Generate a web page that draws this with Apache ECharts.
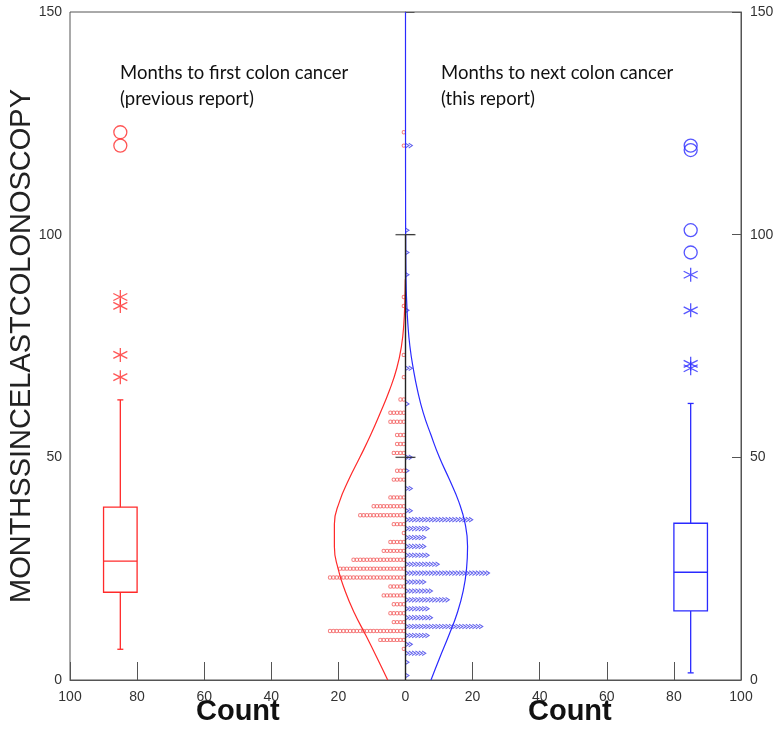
<!DOCTYPE html>
<html>
<head>
<meta charset="utf-8">
<script src="https://cdn.jsdelivr.net/npm/echarts@6/dist/echarts.min.js"></script>
<style>
  html, body { margin: 0; padding: 0; background: #fff; }
  #chart { width: 781px; height: 743px; }
</style>
</head>
<body>
<div id="chart"></div>
<script>
// dot histogram rows: month bin -> number of patients (one dot each)
const redRowMonths = [123, 120, 86, 84, 73, 68, 63, 60, 58, 55, 53, 51, 47, 45, 41, 39, 37, 35, 33, 31, 29, 27, 25, 23, 21, 19, 17, 15, 13, 11, 9, 7]
const redRowCounts = [1, 1, 1, 1, 1, 1, 2, 5, 5, 3, 3, 4, 3, 4, 5, 10, 14, 4, 1, 5, 7, 16, 20, 23, 5, 7, 4, 5, 4, 23, 8, 1]

const blueRowMonths = [120, 101, 96, 91, 83, 70, 62, 50, 47, 43, 38, 36, 34, 32, 30, 28, 26, 24, 22, 20, 18, 16, 14, 12, 10, 8, 6, 4, 1]
const blueRowCounts = [2, 1, 1, 1, 1, 2, 1, 2, 1, 2, 2, 20, 7, 6, 6, 7, 10, 25, 6, 8, 13, 7, 8, 23, 7, 2, 6, 1, 1]

// fitted normal curves
const redCurveMonths = [0, 5, 10, 15, 20, 25, 30, 35, 40, 45, 50, 55, 60, 65, 70, 75, 80, 85, 90]
const redCurveCounts = [5.3, 8.5, 11.8, 15.2, 18.0, 20.1, 21.2, 21.2, 19.7, 16.9, 13.6, 10.4, 7.5, 4.8, 2.6, 1.2, 0.5, 0.2, 0.05]
const blueCurveMonths = [0, 5, 10, 15, 20, 25, 30, 35, 40, 45, 50, 55, 60, 65, 70, 75, 80, 85, 90, 100, 110, 120, 130, 140, 150]
const blueCurveCounts = [7.6, 10.2, 12.9, 15.4, 17.2, 18.2, 18.5, 17.8, 15.9, 13.1, 10.1, 7.6, 5.3, 3.6, 2.3, 1.3, 0.7, 0.35, 0.15, 0.05, 0.02, 0.01, 0, 0, 0]

// box plots: [x position, whisker low, q1, median, q3, whisker high]
const redBox = [-85, 6.9, 19.7, 26.7, 38.8, 62.9]
const blueBox = [85, 1.6, 15.5, 24.2, 35.2, 62.1]
const redFarOutliers = [123, 120]
const redNearOutliers = [86, 84, 73, 68]
const blueFarOutliers = [120, 119, 101, 96]
const blueNearOutliers = [91, 83, 71, 70]

const xTicks = [-100, 100, 20]
const yTicks = [0, 150, 50]

const RED = '#ff2a2a'
const BLUE = '#2a2aff'
const ASTERISK = 'path://M5,0L5,10M0.67,2.5L9.33,7.5M0.67,7.5L9.33,2.5'

function dotRows(months, counts, side) {
  const pts = []
  for (let r = 0; r < months.length; r++) {
    for (let i = 0; i < counts[r]; i++) {
      pts.push([side * (i + 0.5), months[r]])
    }
  }
  return pts
}

function curve(months, counts, side) {
  return months.map((m, i) => [side * counts[i], m])
}

function outliers(vals, x) {
  return vals.map(v => [x, v])
}

function renderBox(color) {
  return function(params, api) {
    const x = api.value(0)
    const half = 5
    const lo = api.coord([x, api.value(1)])
    const q1 = api.coord([x - half, api.value(2)])
    const medL = api.coord([x - half, api.value(3)])
    const medR = api.coord([x + half, api.value(3)])
    const q3 = api.coord([x + half, api.value(4)])
    const hi = api.coord([x, api.value(5)])
    const cap = 3
    const style = { stroke: color, fill: null, lineWidth: 1.3 }
    const ln = (x1, y1, x2, y2) => ({ type: 'line', shape: { x1, y1, x2, y2 }, style })
    return {
      type: 'group',
      children: [
        { type: 'rect', shape: { x: q1[0], y: q3[1], width: q3[0] - q1[0], height: q1[1] - q3[1] }, style },
        ln(medL[0], medL[1], medR[0], medR[1]),
        ln(lo[0], lo[1], lo[0], q1[1]),
        ln(hi[0], hi[1], hi[0], q3[1]),
        ln(lo[0] - cap, lo[1], lo[0] + cap, lo[1]),
        ln(hi[0] - cap, hi[1], hi[0] + cap, hi[1])
      ]
    }
  }
}

function outlierSeries(data, symbol, size, color) {
  return {
    type: 'scatter',
    data: data,
    symbol: symbol,
    symbolSize: size,
    itemStyle: { color: 'transparent', borderColor: color, borderWidth: 1.3 },
    z: 5
  }
}

const chart = echarts.init(document.getElementById('chart'))

chart.setOption({
  animation: false,
  backgroundColor: '#fff',
  grid: {
    left: 70,
    right: 40,
    top: 12,
    bottom: 63,
    outerBoundsMode: 'none',
    containLabel: false,
    show: true,
    borderColor: '#555',
    borderWidth: 1
  },
  xAxis: {
    type: 'value',
    min: xTicks[0],
    max: xTicks[1],
    interval: xTicks[2],
    axisLine: { lineStyle: { color: '#555', width: 1 } },
    axisTick: { inside: true, length: 18, lineStyle: { color: '#555' } },
    axisLabel: {
      margin: 10,
      color: '#333',
      fontSize: 14,
      fontFamily: 'Liberation Sans',
      formatter: v => Math.abs(v)
    },
    splitLine: { show: false }
  },
  yAxis: [{
    type: 'value',
    min: yTicks[0],
    max: yTicks[1],
    interval: yTicks[2],
    name: 'MONTHSSINCELASTCOLONOSCOPY',
    nameLocation: 'middle',
    nameRotate: 90,
    nameGap: 34,
    nameMoveOverlap: false,
    nameTextStyle: { fontSize: 29, color: '#222', fontFamily: 'Liberation Sans' },
    axisLine: { show: true, lineStyle: { color: '#555' } },
    axisTick: { inside: true, length: 9, lineStyle: { color: '#555' } },
    axisLabel: { margin: 8, color: '#333', fontSize: 14, fontFamily: 'Liberation Sans' },
    splitLine: { show: false }
  }, {
    type: 'value',
    position: 'right',
    min: yTicks[0],
    max: yTicks[1],
    interval: yTicks[2],
    axisLine: { show: true, lineStyle: { color: '#555' } },
    axisTick: { inside: true, length: 9, lineStyle: { color: '#555' } },
    axisLabel: { margin: 9, color: '#333', fontSize: 14, fontFamily: 'Liberation Sans' },
    splitLine: { show: false }
  }],
  graphic: [
    { type: 'text', left: 120, top: 60, style: { text: 'Months to first colon cancer\n(previous report)', font: '18.5px Lato', fill: '#111', lineHeight: 26 } },
    { type: 'text', left: 441, top: 60, style: { text: 'Months to next colon cancer\n(this report)', font: '18.5px Lato', fill: '#111', lineHeight: 26 } },
    { type: 'text', left: 196, top: 697, style: { text: 'Count', font: 'bold 29px Liberation Sans', fill: '#111' } },
    { type: 'text', left: 528, top: 697, style: { text: 'Count', font: 'bold 29px Liberation Sans', fill: '#111' } }
  ],
  series: [
    {
      type: 'scatter',
      data: dotRows(redRowMonths, redRowCounts, -1),
      symbol: 'circle',
      symbolSize: 3.4,
      itemStyle: { color: 'transparent', borderColor: '#f25c5c', borderWidth: 1 },
      z: 2
    },
    {
      type: 'scatter',
      data: dotRows(blueRowMonths, blueRowCounts, 1),
      symbol: 'path://M0,0L10,5L0,10',
      symbolSize: [3.6, 4.6],
      itemStyle: { color: 'transparent', borderColor: '#3a3ae8', borderWidth: 1 },
      z: 2
    },
    {
      type: 'line',
      data: curve(redCurveMonths, redCurveCounts, -1),
      smooth: 0.5,
      showSymbol: false,
      lineStyle: { color: RED, width: 1.2 },
      z: 3
    },
    {
      type: 'line',
      data: curve(blueCurveMonths, blueCurveCounts, 1),
      smooth: 0.5,
      showSymbol: false,
      lineStyle: { color: BLUE, width: 1.2 },
      z: 3
    },
    {
      // centre axis of the back-to-back histograms
      type: 'line',
      data: [[0, 0], [0, 100]],
      showSymbol: false,
      lineStyle: { color: '#222', width: 1.4 },
      z: 4
    },
    {
      type: 'scatter',
      data: [[0, 50], [0, 100]],
      symbol: 'rect',
      symbolSize: [20, 1.4],
      itemStyle: { color: '#333' },
      z: 4
    },
    {
      type: 'custom',
      data: [redBox],
      encode: { x: 0, y: [1, 2, 3, 4, 5] },
      renderItem: renderBox(RED),
      z: 5
    },
    {
      type: 'custom',
      data: [blueBox],
      encode: { x: 0, y: [1, 2, 3, 4, 5] },
      renderItem: renderBox(BLUE),
      z: 5
    },
    outlierSeries(outliers(redFarOutliers, redBox[0]), 'circle', 13, RED),
    outlierSeries(outliers(redNearOutliers, redBox[0]), ASTERISK, 14, RED),
    outlierSeries(outliers(blueFarOutliers, blueBox[0]), 'circle', 13, BLUE),
    outlierSeries(outliers(blueNearOutliers, blueBox[0]), ASTERISK, 14, BLUE)
  ]
})
</script>
</body>
</html>
